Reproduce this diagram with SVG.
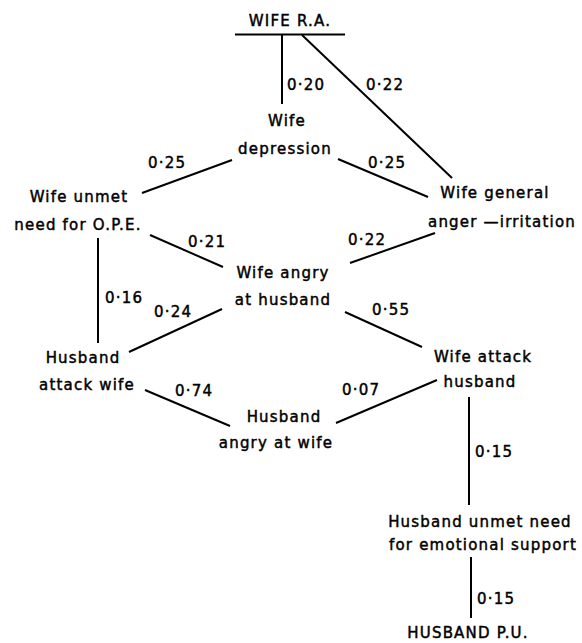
<svg xmlns="http://www.w3.org/2000/svg" width="582" height="643" viewBox="0 0 582 643">
<style>
text{font-family:"DejaVu Sans","Liberation Sans",sans-serif;font-size:15px;letter-spacing:1.2px;fill:#000;stroke:#000;stroke-width:0.45}
.n text{text-anchor:middle}
#connectors line{stroke:#000;stroke-width:2;stroke-linecap:butt}
</style>
<rect width="582" height="643" fill="#fff"/>
<g id="connectors">
<line x1="235" y1="34.5" x2="345" y2="34.5"/>
<line x1="282" y1="35" x2="282" y2="104"/>
<line x1="302" y1="35" x2="452" y2="178"/>
<line x1="232" y1="160" x2="142" y2="193"/>
<line x1="338" y1="159" x2="428" y2="197"/>
<line x1="150" y1="235" x2="223" y2="267"/>
<line x1="435" y1="233" x2="350" y2="263"/>
<line x1="98" y1="238" x2="98" y2="343"/>
<line x1="222" y1="309" x2="129" y2="352"/>
<line x1="345" y1="312" x2="422" y2="347"/>
<line x1="145" y1="390" x2="230" y2="426"/>
<line x1="437" y1="380" x2="336" y2="423"/>
<line x1="469" y1="397" x2="469" y2="505"/>
<line x1="471" y1="557" x2="471" y2="618"/>
</g>
<g id="labels">
<text x="287" y="90">0·20</text>
<text x="366" y="90">0·22</text>
<text x="148" y="168">0·25</text>
<text x="368" y="168">0·25</text>
<text x="188" y="247">0·21</text>
<text x="348" y="245">0·22</text>
<text x="105" y="303">0·16</text>
<text x="154" y="317">0·24</text>
<text x="372" y="315">0·55</text>
<text x="175" y="396">0·74</text>
<text x="342" y="395">0·07</text>
<text x="475" y="457">0·15</text>
<text x="477" y="604">0·15</text>
</g>
<g id="wife-ra" class="n"><text x="290" y="26">WIFE R.A.</text></g>
<g id="wife-depression" class="n"><text x="287" y="126">Wife</text><text x="285" y="154">depression</text></g>
<g id="wife-unmet-need" class="n"><text x="79" y="202">Wife unmet</text><text x="78" y="230">need for O.P.E.</text></g>
<g id="wife-general-anger" class="n"><text x="495" y="198">Wife general</text><text x="502" y="227">anger —irritation</text></g>
<g id="wife-angry" class="n"><text x="283" y="278">Wife angry</text><text x="283" y="305">at husband</text></g>
<g id="husband-attack" class="n"><text x="83" y="363">Husband</text><text x="87" y="390">attack wife</text></g>
<g id="wife-attack" class="n"><text x="483" y="362">Wife attack</text><text x="480" y="387">husband</text></g>
<g id="husband-angry" class="n"><text x="284" y="422">Husband</text><text x="276" y="448">angry at wife</text></g>
<g id="husband-unmet-need" class="n"><text x="480" y="527">Husband unmet need</text><text x="483" y="550">for emotional support</text></g>
<g id="husband-pu" class="n"><text x="468" y="638">HUSBAND P.U.</text></g>
</svg>
